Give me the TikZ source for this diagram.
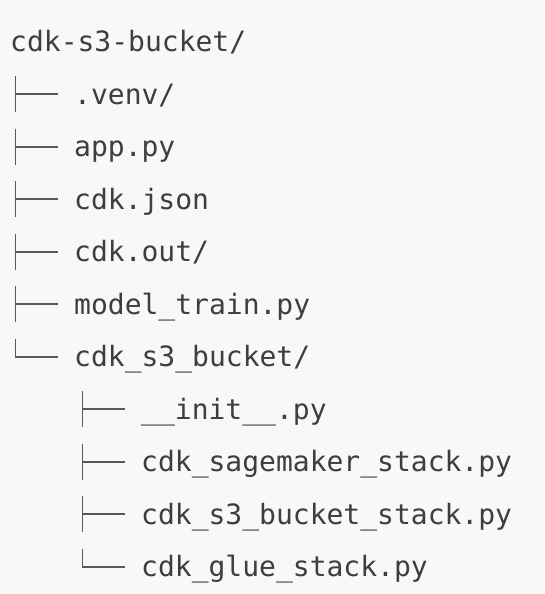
\documentclass[tikz,border=0pt]{standalone}
\usepackage{fontspec}
\setmonofont{DejaVu Sans Mono}
\definecolor{pagegray}{HTML}{F8F8F8}
\definecolor{txtgray}{HTML}{3E3E3E}
\definecolor{treegray}{HTML}{5A5A5A}
\begin{document}
\begin{tikzpicture}[x=1pt,y=1pt,
	file/.style={anchor=base west,inner sep=0pt,text=txtgray,font=\ttfamily\fontsize{28}{28}\selectfont},
	branch/.style={draw=treegray,line width=1.7pt}]
	\path[fill=pagegray] (0,0) rectangle (544,-594);
	\path (10,-51.7) node(root)[file]{cdk-s3-bucket/}
	(74,-104.2) node(venv)[file]{.venv/}
	(74,-156.7) node(app)[file]{app.py}
	(74,-209.2) node(json)[file]{cdk.json}
	(74,-261.7) node(out)[file]{cdk.out/}
	(74,-314.2) node(train)[file]{model\_train.py}
	(74,-366.7) node(pkg)[file]{cdk\_s3\_bucket/}
	(141,-419.2) node(init)[file]{\_\_init\_\_.py}
	(141,-471.7) node(sage)[file]{cdk\_sagemaker\_stack.py}
	(141,-524.2) node(s3stack)[file]{cdk\_s3\_bucket\_stack.py}
	(141,-576.7) node(glue)[file]{cdk\_glue\_stack.py};
	% top level
	\draw[branch] ([shift={(-58.5,28)}]venv.base west) -- ++(0,-36) ([shift={(-58.5,10)}]venv.base west) -- ++(42.5,0);
	\draw[branch] ([shift={(-58.5,28)}]app.base west) -- ++(0,-36) ([shift={(-58.5,10)}]app.base west) -- ++(42.5,0);
	\draw[branch] ([shift={(-58.5,28)}]json.base west) -- ++(0,-36) ([shift={(-58.5,10)}]json.base west) -- ++(42.5,0);
	\draw[branch] ([shift={(-58.5,28)}]out.base west) -- ++(0,-36) ([shift={(-58.5,10)}]out.base west) -- ++(42.5,0);
	\draw[branch] ([shift={(-58.5,28)}]train.base west) -- ++(0,-36) ([shift={(-58.5,10)}]train.base west) -- ++(42.5,0);
	\draw[branch] ([shift={(-58.5,28)}]pkg.base west) |- ([shift={(-16,10)}]pkg.base west);
	% inside cdk_s3_bucket/
	\draw[branch] ([shift={(-58.5,28)}]init.base west) -- ++(0,-36) ([shift={(-58.5,10)}]init.base west) -- ++(42.5,0);
	\draw[branch] ([shift={(-58.5,28)}]sage.base west) -- ++(0,-36) ([shift={(-58.5,10)}]sage.base west) -- ++(42.5,0);
	\draw[branch] ([shift={(-58.5,28)}]s3stack.base west) -- ++(0,-36) ([shift={(-58.5,10)}]s3stack.base west) -- ++(42.5,0);
	\draw[branch] ([shift={(-58.5,28)}]glue.base west) |- ([shift={(-16,10)}]glue.base west);
\end{tikzpicture}
\end{document}
